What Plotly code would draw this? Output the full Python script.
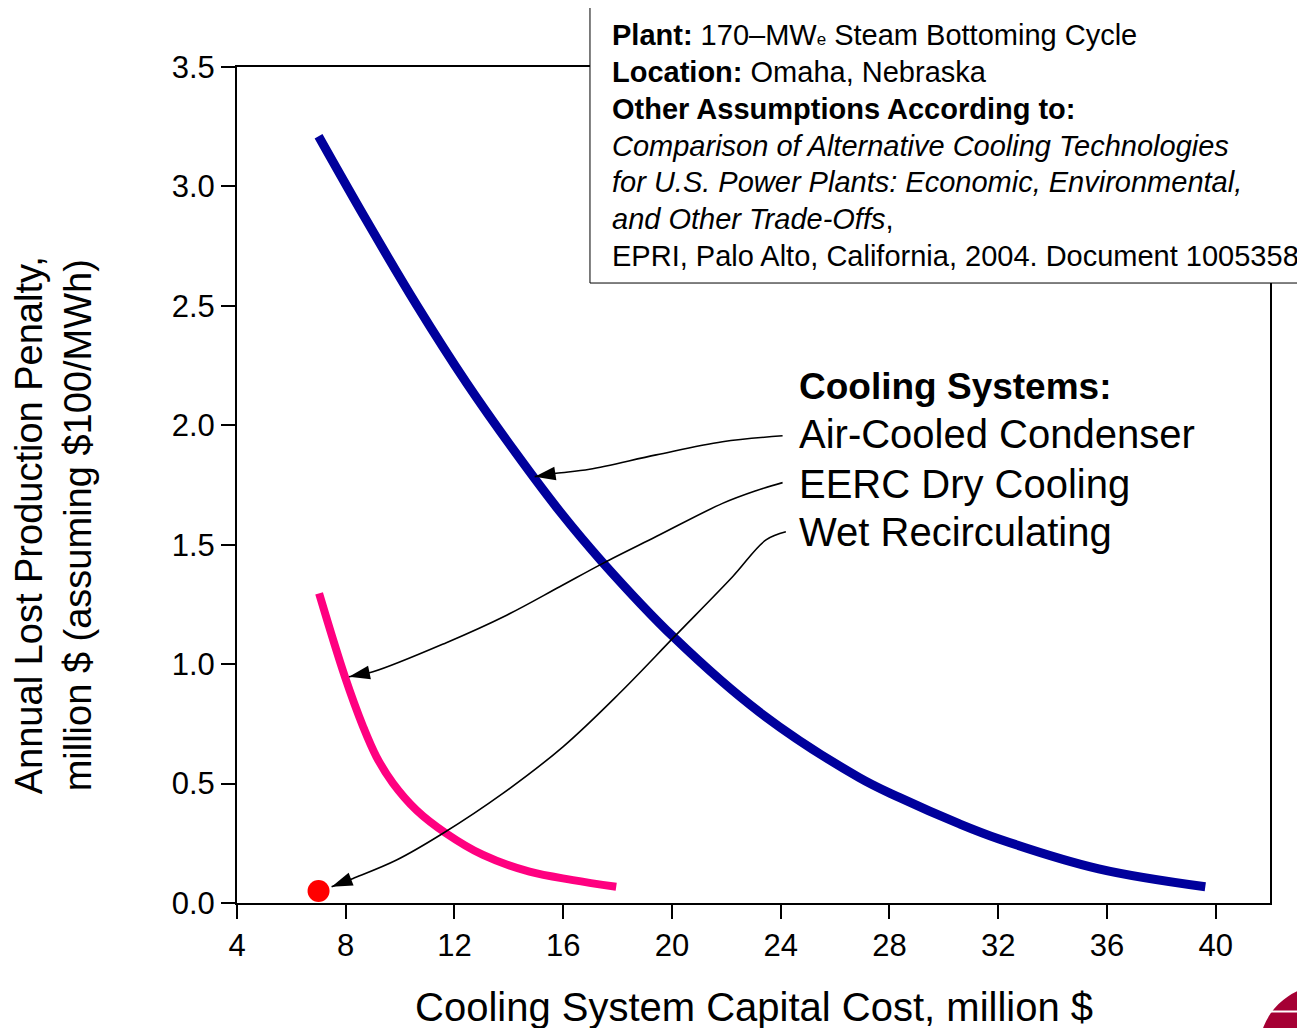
import plotly.graph_objects as go

# ---------------- data ----------------
acc_cost = [7.0, 8.76, 10.6, 12.44, 14.27, 15.87, 17.46, 20.09, 23.21, 26.89, 28.36, 30.56, 32.03, 35.70, 39.62]
acc_penalty = [3.21, 2.858, 2.505, 2.178, 1.882, 1.64, 1.425, 1.11, 0.80, 0.525, 0.442, 0.332, 0.268, 0.143, 0.068]

eerc_cost = [7.02, 7.97, 8.64, 9.13, 9.74, 10.60, 11.70, 13.05, 14.76, 16.36, 17.95]
eerc_penalty = [1.296, 0.947, 0.738, 0.612, 0.501, 0.389, 0.291, 0.201, 0.131, 0.096, 0.068]

wet_cost = [7.0]
wet_penalty = [0.05]

x_ticks = [4, 8, 12, 16, 20, 24, 28, 32, 36, 40]
y_ticks = [0.0, 0.5, 1.0, 1.5, 2.0, 2.5, 3.0, 3.5]

# callout arrow paths (label -> curve)
arrow_acc_x = [24.07, 21.86, 19.42, 16.97, 15.74, 14.95]
arrow_acc_y = [1.956, 1.931, 1.876, 1.816, 1.799, 1.785]
arrow_eerc_x = [24.07, 23.09, 21.86, 19.42, 17.46, 15.87, 13.92, 11.70, 9.0, 8.12]
arrow_eerc_y = [1.760, 1.726, 1.673, 1.534, 1.422, 1.324, 1.205, 1.09, 0.968, 0.947]
arrow_wet_x = [24.19, 23.46, 22.23, 20.09, 18.07, 15.99, 13.78, 11.58, 9.87, 8.27, 7.48]
arrow_wet_y = [1.554, 1.520, 1.366, 1.115, 0.878, 0.654, 0.459, 0.292, 0.180, 0.103, 0.068]

FONT = "Liberation Sans, Arial, sans-serif"

fig = go.Figure()

fig.add_trace(go.Scatter(x=acc_cost, y=acc_penalty, mode="lines",
                         line=dict(color="#00009C", width=9, shape="spline"),
                         name="Air-Cooled Condenser"))
fig.add_trace(go.Scatter(x=eerc_cost, y=eerc_penalty, mode="lines",
                         line=dict(color="#FF0080", width=8, shape="spline"),
                         name="EERC Dry Cooling"))
fig.add_trace(go.Scatter(x=wet_cost, y=wet_penalty, mode="markers",
                         marker=dict(color="#FF0000", size=22, line=dict(width=0)),
                         name="Wet Recirculating"))

for ax_, ay_ in [(arrow_acc_x, arrow_acc_y), (arrow_eerc_x, arrow_eerc_y), (arrow_wet_x, arrow_wet_y)]:
    fig.add_trace(go.Scatter(x=ax_, y=ay_, mode="lines",
                             line=dict(color="black", width=1.6, shape="spline"),
                             showlegend=False, hoverinfo="skip"))
    fig.add_trace(go.Scatter(x=ax_[-2:], y=ay_[-2:], mode="markers",
                             marker=dict(symbol="arrow", size=22, color="black",
                                         angleref="previous", line=dict(width=0)),
                             showlegend=False, hoverinfo="skip"))

axis_common = dict(showline=True, linecolor="black", linewidth=2, mirror=True,
                   ticks="outside", ticklen=14, tickwidth=2, tickcolor="black",
                   showgrid=False, zeroline=False,
                   tickfont=dict(family=FONT, size=31, color="black"))

fig.update_xaxes(range=[4, 42], tickvals=x_ticks, ticktext=[str(v) for v in x_ticks], **axis_common)
fig.update_yaxes(range=[0, 3.5], tickvals=y_ticks, ticktext=[f"{v:.1f}" for v in y_ticks], **axis_common)

shapes = [
    # info box
    dict(type="rect", xref="paper", yref="paper", x0=0.3417, x1=1.05, y0=0.7416, y1=1.0742,
         fillcolor="white", line=dict(color="black", width=1), layer="above"),
    # logo fragment bottom right
    dict(type="circle", xref="paper", yref="paper", x0=0.9893, x1=1.1171, y0=-0.256, y1=-0.0981,
         fillcolor="#A50034", line=dict(width=0), layer="above"),
    dict(type="line", xref="paper", yref="paper", x0=1.0, x1=1.12, y0=-0.1298, y1=-0.1298,
         line=dict(color="white", width=2), layer="above"),
]

annotations = []
box_lines = [
    "<b>Plant:</b> 170–MW<span style=\"font-size:17px\">e</span> Steam Bottoming Cycle",
    "<b>Location:</b> Omaha, Nebraska",
    "<b>Other Assumptions According to:</b>",
    "<i>Comparison of Alternative Cooling Technologies</i>",
    "<i>for U.S. Power Plants: Economic, Environmental,</i>",
    "<i>and Other Trade-Offs</i>,",
    "EPRI, Palo Alto, California, 2004. Document 1005358",
]
box_y = [1.0383, 0.9940, 0.9498, 0.9055, 0.8624, 0.8182, 0.7739]
for t, yy in zip(box_lines, box_y):
    annotations.append(dict(text=t, xref="paper", yref="paper", x=0.3611, y=yy,
                            xanchor="left", yanchor="middle", showarrow=False,
                            font=dict(family=FONT, size=29, color="black")))

label_lines = ["<b>Cooling Systems:</b>", "Air-Cooled Condenser", "EERC Dry Cooling", "Wet Recirculating"]
label_y = [0.6184, 0.5610, 0.5012, 0.4438]
label_size = [37, 40, 40, 40]
for t, yy, s in zip(label_lines, label_y, label_size):
    annotations.append(dict(text=t, xref="paper", yref="paper", x=0.5421, y=yy,
                            xanchor="left", yanchor="middle", showarrow=False,
                            font=dict(family=FONT, size=s, color="black")))

annotations.append(dict(text="Cooling System Capital Cost, million $", xref="paper", yref="paper",
                        x=0.5, y=-0.124, xanchor="center", yanchor="middle", showarrow=False,
                        font=dict(family=FONT, size=40, color="black")))
annotations.append(dict(text="Annual Lost Production Penalty,<br>million $ (assuming $100/MWh)",
                        xref="paper", yref="paper", x=-0.178, y=0.452, textangle=-90,
                        xanchor="center", yanchor="middle", showarrow=False,
                        font=dict(family=FONT, size=38, color="black")))

# page body has an 8px margin; shrink the figure so the plot area lands where the reference has it
fig.update_layout(width=1297, height=1020, autosize=False,
                  margin=dict(l=229, r=35, t=59, b=125),
                  paper_bgcolor="white", plot_bgcolor="white",
                  showlegend=False, hovermode=False,
                  shapes=shapes, annotations=annotations)

fig.write_html("out.html")
